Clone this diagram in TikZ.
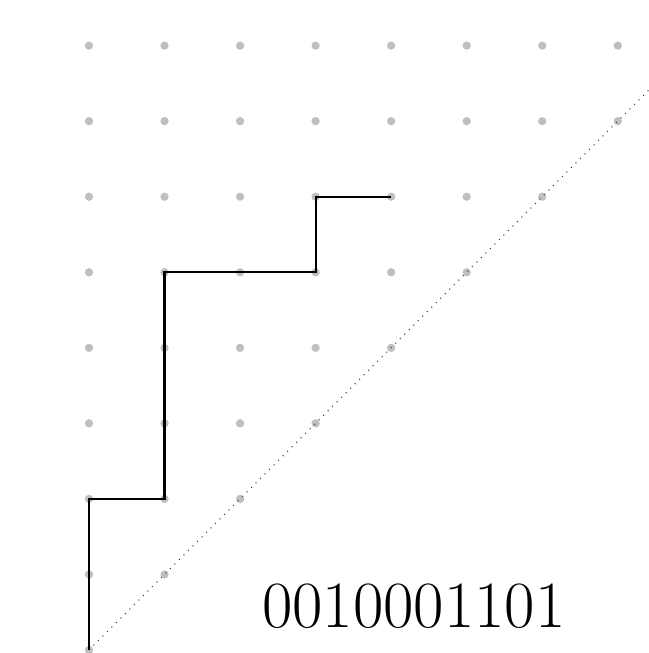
\documentclass[tikz,border=0pt]{standalone}
\begin{document}
\begin{tikzpicture}[
  gdot/.style={circle, fill=black!25, inner sep=0pt, minimum size=0.11cm},
  pathline/.style={line width=0.8pt, black},
  diag/.style={dotted, black!75, line width=0.4pt}]
\useasboundingbox (-1.178,-0.04) rectangle (7.412,8.604);
\foreach \j in {0,...,8}{
  \foreach \i in {0,...,7}{
    \ifnum\i>\j\relax\else
      \node[gdot] (d-\i-\j) at (\i,\j) {};
    \fi
  }
}
\coordinate (diagend) at (7.412,7.412);
\draw[diag] (d-0-0.center) -- (diagend);
\draw[pathline] (d-0-0.center) -- (d-0-2.center) -- (d-1-2.center) -- (d-1-5.center)
  -- (d-3-5.center) -- (d-3-6.center) -- (d-4-6.center);
\node[font=\Huge] (word) at (4.3,0.576) {0010001101};
\end{tikzpicture}
\end{document}
